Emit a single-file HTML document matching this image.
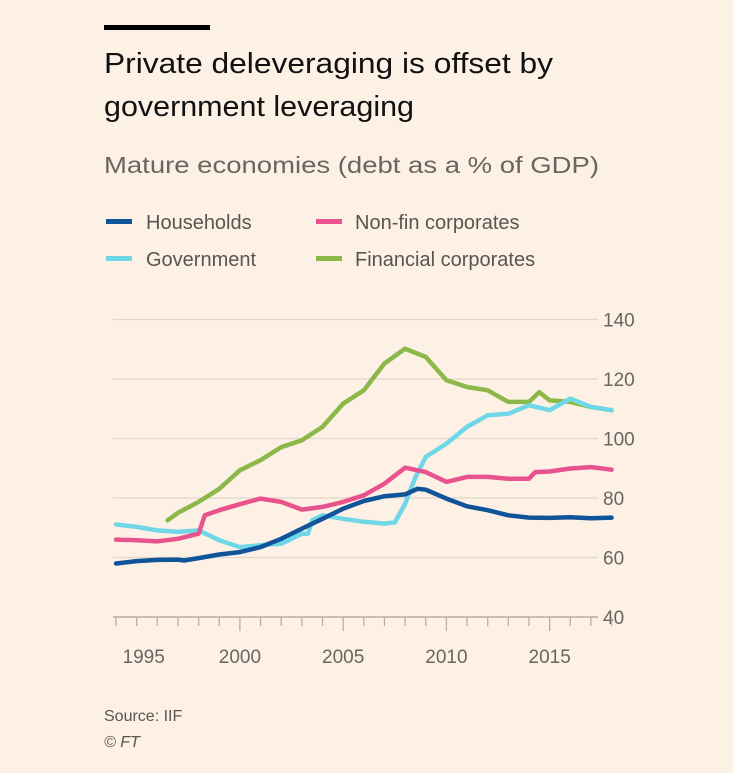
<!DOCTYPE html>
<html><head><meta charset="utf-8"><style>
html,body{margin:0;padding:0;background:#fdf1e5;}
svg{display:block;font-family:"Liberation Sans",sans-serif;}
</style></head><body>
<svg id="chart" width="733" height="773" viewBox="0 0 733 773">
<rect width="733" height="773" fill="#fdf1e5"/>
<rect x="104" y="25" width="106" height="5" fill="#000"/>
<text x="104" y="73" font-size="29" fill="#111" textLength="449" lengthAdjust="spacingAndGlyphs">Private deleveraging is offset by</text>
<text x="104" y="116" font-size="29" fill="#111" textLength="310" lengthAdjust="spacingAndGlyphs">government leveraging</text>
<text x="104" y="173" font-size="23" fill="#6b6460" textLength="495" lengthAdjust="spacingAndGlyphs">Mature economies (debt as a % of GDP)</text>
<g>
<rect x="106" y="219" width="26" height="5" fill="#0f5499"/>
<text x="146" y="229" font-size="20" fill="#5a5450">Households</text>
<rect x="316" y="219" width="26" height="5" fill="#e9538d"/>
<text x="355" y="229" font-size="20" fill="#5a5450">Non-fin corporates</text>
<rect x="106" y="256" width="26" height="5" fill="#6fd7e8"/>
<text x="146" y="266" font-size="20" fill="#5a5450">Government</text>
<rect x="316" y="256" width="26" height="5" fill="#8cb84a"/>
<text x="355" y="266" font-size="20" fill="#5a5450">Financial corporates</text>
</g>
<g id="grid"></g><g id="series"></g><g id="xaxis"></g>
<text x="104" y="721" font-size="16" fill="#5a5450">Source: IIF</text>
<text x="104" y="747" font-size="16" fill="#5a5450" font-style="italic">© FT</text>
</svg>
<script>
const yTicks=[40,60,80,100,120,140];
const xTickYears=[1994,1995,1996,1997,1998,1999,2000,2001,2002,2003,2004,2005,2006,2007,2008,2009,2010,2011,2012,2013,2014,2015,2016,2017,2018];
const xLabels=[1995,2000,2005,2010,2015];
const hhYears=[1994,1995,1996,1997,1997.3,1998,1999,2000,2001,2002,2003,2004,2005,2006,2007,2008,2008.6,2009,2010,2011,2012,2013,2014,2015,2016,2017,2018];
const hhValues=[58,58.8,59.2,59.3,59,59.8,61,61.8,63.5,66.3,69.7,73,76.4,79,80.6,81.2,83.1,82.8,79.8,77.2,75.9,74.2,73.4,73.3,73.5,73.2,73.4];
const govYears=[1994,1995,1996,1997,1998,1999,2000,2001,2002,2003,2003.3,2003.5,2004,2005,2006,2007,2007.5,2008,2008.5,2009,2010,2011,2012,2013,2014,2015,2016,2017,2018];
const govValues=[71.1,70.3,69.1,68.6,69.1,65.8,63.5,64.1,64.6,68,68,72.5,74.2,73,72,71.4,71.8,78,87,93.8,98.3,103.9,107.8,108.3,111.2,109.5,113.4,110.6,109.5];
const nfYears=[1994,1995,1996,1997,1998,1998.3,1999,2000,2001,2002,2003,2004,2005,2006,2007,2008,2009,2010,2011,2012,2013,2014,2014.3,2015,2016,2017,2018];
const nfValues=[66,65.8,65.4,66.3,68,74.2,75.9,77.9,79.8,78.7,76.1,77,78.7,80.9,84.8,90.2,88.7,85.4,87.1,87.1,86.5,86.5,88.7,88.9,89.9,90.4,89.5];
const finYears=[1996.5,1997,1998,1999,2000,2001,2002,2003,2004,2005,2006,2007,2008,2009,2010,2011,2012,2013,2014,2014.5,2015,2016,2017,2018];
const finValues=[72.5,75,78.7,83.1,89.3,92.7,97.1,99.4,103.9,111.7,116.2,125.2,130.2,127.4,119.6,117.3,116.2,112.3,112.3,115.6,112.8,112.3,110.6,109.5];
const NS='http://www.w3.org/2000/svg';
const xS=y=>116+(y-1994)*20.65;
const yS=v=>617-(v-40)*2.975;
function mk(t,attrs,parent){const e=document.createElementNS(NS,t);for(const k in attrs)e.setAttribute(k,attrs[k]);parent.appendChild(e);return e;}
const grid=document.getElementById('grid');
yTicks.forEach(v=>{
  const l=mk('line',{x1:113,x2:598,y1:yS(v),y2:yS(v),stroke:v===40?'#b8aea6':'#e2d7cc','stroke-width':v===40?1.5:1.2},grid);
  
  
  const t=mk('text',{x:603,y:yS(v)+7,'font-size':19,fill:'#6b6460'},grid);
  t.textContent=v;
  
  
});
const xa=document.getElementById('xaxis');
xTickYears.forEach(y=>{
  const big=xLabels.includes(y)&&y!==1995;
  const l=mk('line',{x1:xS(y),x2:xS(y),y1:617,y2:big?631:626,stroke:'#b8aea6','stroke-width':1.3},xa);
  
  
});
xLabels.forEach(y=>{
  const cx=y===1995?xS(y)+7:xS(y);
  const t=mk('text',{x:cx,y:663,'font-size':19,fill:'#6b6460','text-anchor':'middle'},xa);
  t.textContent=y;
  
  
});
const ser=document.getElementById('series');
function line(xs,vs,color,name){
  const d=xs.map((x,i)=>(i?'L':'M')+xS(x).toFixed(1)+','+yS(vs[i]).toFixed(1)).join('');
  const p=mk('path',{d:d,fill:'none',stroke:color,'stroke-width':4.5,'stroke-linejoin':'round','stroke-linecap':'round'},ser);
  
  
}
line(finYears,finValues,'#8cb84a','line-financial-corporates');
line(govYears,govValues,'#6fd7e8','line-government');
line(nfYears,nfValues,'#e9538d','line-non-fin-corporates');
line(hhYears,hhValues,'#0f5499','line-households');
</script>
</body></html>
